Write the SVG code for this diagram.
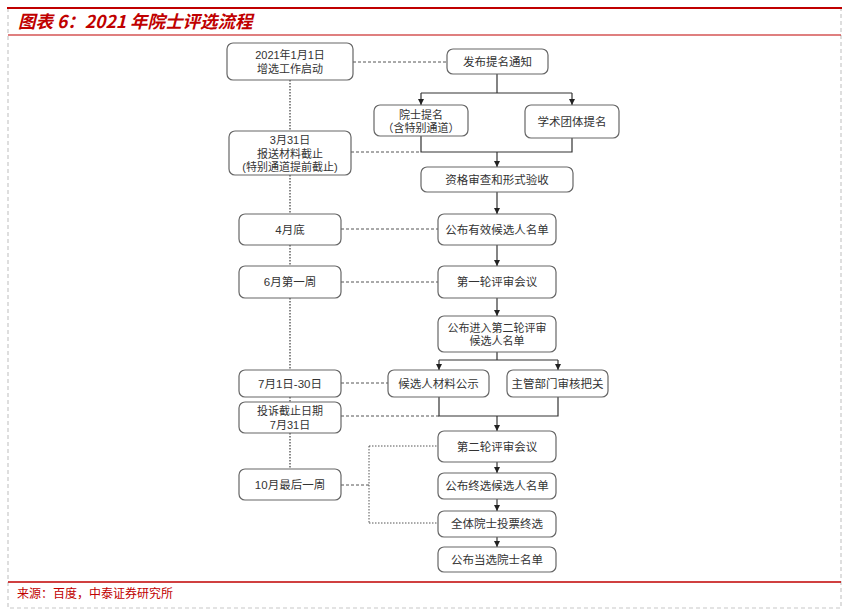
<svg xmlns="http://www.w3.org/2000/svg" width="852" height="616" viewBox="0 0 852 616">
<style>
.box{fill:#fff;stroke:#666;stroke-width:1.2}
.t{font-family:"Liberation Sans","Noto Sans CJK SC",sans-serif;font-size:11.5px;fill:#333;text-anchor:middle;dominant-baseline:central}
.m{font-size:11px}
.solid{fill:none;stroke:#333;stroke-width:1.2}
.dash{fill:none;stroke:#555;stroke-width:1;stroke-dasharray:3 2}
.dot{fill:none;stroke:#555;stroke-width:1;stroke-dasharray:1.5 1.5}
.vdot{fill:none;stroke:#888;stroke-width:2;stroke-dasharray:1.5 1.5}
</style>
<defs>
<marker id="ah" viewBox="0 0 10 10" refX="10" refY="5" markerWidth="6" markerHeight="6" markerUnits="userSpaceOnUse" orient="auto">
<path d="M0,0 L10,5 L0,10 Z" fill="#222"/>
</marker>
</defs>
<rect width="852" height="616" fill="#fff"/>
<g id="frame">
<path d="M8 8 V608 H841 V8" fill="none" stroke="#c8c8c8" stroke-width="1.2" stroke-dasharray="4 3"/>
<line x1="7" y1="8" x2="842" y2="8" stroke="#c00000" stroke-width="2.2"/>
<line x1="8" y1="35" x2="841" y2="35" stroke="#c00000" stroke-width="1.2"/>
<line x1="8" y1="582" x2="841" y2="582" stroke="#c00000" stroke-width="1.3"/>
<text x="18" y="28" font-family="'Noto Sans CJK SC',sans-serif" font-size="17.5" font-weight="bold" font-style="italic" fill="#c00000">图表 6：2021 年院士评选流程</text>
<text x="17" y="598" font-family="'Noto Sans CJK SC',sans-serif" font-size="12" fill="#c00000">来源：百度，中泰证券研究所</text>
</g>
<g id="connectors">
<path class="vdot" d="M290 80 V131 M290 175 V214 M290 245 V266 M290 298 V370 M290 397 V402 M290 433 V469"/>
<path class="dash" d="M353 62 H447 M351 152 H421 M341 229 H438 M341 282 H438 M341 383 H388 M341 416 H439 M341 485 H369"/>
<path class="dot" d="M369 446 V523 M369 446 H438 M369 523 H438"/>
<path class="solid" d="M497 74 V93 M421 93 H572"/>
<path class="solid" d="M421 93 V105" marker-end="url(#ah)"/>
<path class="solid" d="M572 93 V105" marker-end="url(#ah)"/>
<path class="solid" d="M421 136 V152 H572 V138"/>
<path class="solid" d="M497 152 V167" marker-end="url(#ah)"/>
<path class="solid" d="M497 192 V214" marker-end="url(#ah)"/>
<path class="solid" d="M497 245 V266" marker-end="url(#ah)"/>
<path class="solid" d="M497 298 V316" marker-end="url(#ah)"/>
<path class="solid" d="M497 352 V360 M439 360 H558"/>
<path class="solid" d="M439 360 V370" marker-end="url(#ah)"/>
<path class="solid" d="M558 360 V370" marker-end="url(#ah)"/>
<path class="solid" d="M439 397 V416 H558 V397"/>
<path class="solid" d="M497 416 V431" marker-end="url(#ah)"/>
<path class="solid" d="M497 462 V473" marker-end="url(#ah)"/>
<path class="solid" d="M497 499 V511" marker-end="url(#ah)"/>
<path class="solid" d="M497 537 V547" marker-end="url(#ah)"/>
</g>
<g id="n-start"><rect class="box" x="227" y="43" width="126" height="37" rx="6"/><text class="t m" x="290" y="55"><tspan x="290" y="55">2021年1月1日</tspan><tspan x="290" y="69">增选工作启动</tspan></text></g>
<g id="n-0331"><rect class="box" x="229" y="131" width="122" height="44" rx="6"/><text class="t m" x="290" y="140"><tspan x="290" y="140">3月31日</tspan><tspan x="290" y="153.5">报送材料截止</tspan><tspan x="290" y="167">(特别通道提前截止)</tspan></text></g>
<g id="n-apr"><rect class="box" x="239" y="214" width="102" height="31" rx="6"/><text class="t" x="290" y="229.5">4月底</text></g>
<g id="n-jun"><rect class="box" x="239" y="266" width="102" height="32" rx="6"/><text class="t" x="290" y="282">6月第一周</text></g>
<g id="n-jul"><rect class="box" x="239" y="370" width="102" height="27" rx="6"/><text class="t" x="290" y="383.5">7月1日-30日</text></g>
<g id="n-complain"><rect class="box" x="239" y="402" width="102" height="31" rx="6"/><text class="t m" x="290" y="411"><tspan x="290" y="411">投诉截止日期</tspan><tspan x="290" y="424.5">7月31日</tspan></text></g>
<g id="n-oct"><rect class="box" x="239" y="469" width="102" height="31" rx="6"/><text class="t" x="290" y="485">10月最后一周</text></g>
<g id="n-notice"><rect class="box" x="447" y="49" width="101" height="25" rx="6"/><text class="t" x="497.5" y="61.5">发布提名通知</text></g>
<g id="n-acad"><rect class="box" x="374" y="105" width="94" height="31" rx="6"/><text class="t m" x="421" y="114.5"><tspan x="421" y="114.5">院士提名</tspan><tspan x="421" y="128">（含特别通道）</tspan></text></g>
<g id="n-soc"><rect class="box" x="525" y="105" width="94" height="33" rx="6"/><text class="t" x="572" y="121.5">学术团体提名</text></g>
<g id="n-review"><rect class="box" x="421" y="167" width="152" height="25" rx="6"/><text class="t" x="497" y="179.5">资格审查和形式验收</text></g>
<g id="n-valid"><rect class="box" x="438" y="214" width="118" height="31" rx="6"/><text class="t" x="497" y="229.5">公布有效候选人名单</text></g>
<g id="n-r1"><rect class="box" x="438" y="266" width="118" height="32" rx="6"/><text class="t" x="497" y="282">第一轮评审会议</text></g>
<g id="n-r2list"><rect class="box" x="438" y="316" width="118" height="36" rx="6"/><text class="t m" x="497" y="327.5"><tspan x="497" y="327.5">公布进入第二轮评审</tspan><tspan x="497" y="341">候选人名单</tspan></text></g>
<g id="n-pub"><rect class="box" x="388" y="370" width="101" height="27" rx="6"/><text class="t" x="438.5" y="383.5">候选人材料公示</text></g>
<g id="n-dept"><rect class="box" x="507" y="370" width="101" height="27" rx="6"/><text class="t" x="557.5" y="383.5">主管部门审核把关</text></g>
<g id="n-r2"><rect class="box" x="438" y="431" width="118" height="31" rx="6"/><text class="t" x="497" y="446.5">第二轮评审会议</text></g>
<g id="n-final"><rect class="box" x="438" y="473" width="118" height="26" rx="6"/><text class="t" x="497" y="486">公布终选候选人名单</text></g>
<g id="n-vote"><rect class="box" x="438" y="511" width="118" height="26" rx="6"/><text class="t" x="497" y="524">全体院士投票终选</text></g>
<g id="n-elected"><rect class="box" x="438" y="547" width="118" height="25" rx="6"/><text class="t" x="497" y="559.5">公布当选院士名单</text></g>
</svg>
